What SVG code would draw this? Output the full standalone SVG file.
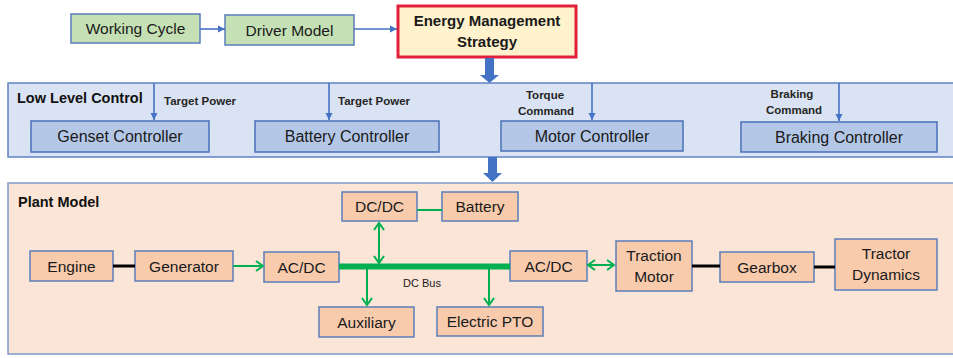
<svg xmlns="http://www.w3.org/2000/svg" width="953" height="358" viewBox="0 0 953 358">
<defs>
<style>
.t{font-family:"Liberation Sans",Arial,sans-serif;fill:#1a1a1a;text-anchor:middle}
.n{font-size:15.5px}
.c{font-size:16px}
.b{font-weight:bold}
.st{text-anchor:start}
.lbl{font-size:11.5px;font-weight:bold;fill:#262626}
.title{font-size:14.5px;font-weight:bold;text-anchor:start;fill:#111}
.green{fill:#C5E0B4;stroke:#5B7DBB;stroke-width:1.5}
.ctrl{fill:#B4C7E7;stroke:#4A6FB8;stroke-width:1.5}
.plant{fill:#F8CBAD;stroke:#5B7DBB;stroke-width:1.5}
.bl{stroke:#4472C4;stroke-width:1.6;fill:none}
.gl{stroke:#00B050;stroke-width:2;fill:none}
.blk{stroke:#000;stroke-width:3;fill:none}
</style>
<marker id="ab" markerUnits="userSpaceOnUse" markerWidth="8" markerHeight="8" refX="7" refY="4" orient="auto">
<path d="M0,0.5 L7,4 L0,7.5 z" fill="#4472C4"/>
</marker>
<marker id="ag" markerUnits="userSpaceOnUse" markerWidth="10" markerHeight="12" refX="8" refY="6" orient="auto-start-reverse">
<path d="M1,1 L8,6 L1,11" fill="none" stroke="#00B050" stroke-width="2"/>
</marker>
</defs>
<rect width="953" height="358" fill="#fff"/>

<g id="low-level-control">
<rect x="8" y="83" width="950" height="74" fill="#DAE3F3" stroke="#5F82C4" stroke-width="1.5"/>
<text class="t title" x="17" y="103">Low Level Control</text>
</g>
<g id="plant-model">
<rect x="8" y="183" width="950" height="171" fill="#FBE5D6" stroke="#7F9BCB" stroke-width="1.5"/>
<text class="t title" x="18" y="207">Plant Model</text>
</g>

<g id="working-cycle"><rect class="green" x="71" y="14" width="129" height="29"/><text class="t n" x="135.5" y="34">Working Cycle</text></g>
<g id="driver-model"><rect class="green" x="225" y="15" width="129" height="30"/><text class="t n" x="289.5" y="35.5">Driver Model</text></g>
<g id="energy-management-strategy"><rect x="398" y="6" width="178" height="51" fill="#FFF2CC" stroke="#E3203C" stroke-width="3"/><text class="t b" font-size="15" x="487" y="26">Energy Management</text><text class="t b" font-size="15" x="487" y="47">Strategy</text></g>

<g id="genset-controller"><rect class="ctrl" x="31" y="121" width="178" height="31"/><text class="t c" x="120" y="142">Genset Controller</text></g>
<g id="battery-controller"><rect class="ctrl" x="255" y="121" width="184" height="31"/><text class="t c" x="347" y="142">Battery Controller</text></g>
<g id="motor-controller"><rect class="ctrl" x="501" y="121" width="182" height="30"/><text class="t c" x="592" y="142">Motor Controller</text></g>
<g id="braking-controller"><rect class="ctrl" x="741" y="122" width="196" height="30"/><text class="t c" x="839" y="143">Braking Controller</text></g>

<g id="engine"><rect class="plant" x="30" y="251" width="83" height="30"/><text class="t n" x="71.5" y="271.5">Engine</text></g>
<g id="generator"><rect class="plant" x="135" y="251" width="98" height="30"/><text class="t n" x="184" y="271.5">Generator</text></g>
<g id="ac-dc-1"><rect class="plant" x="264" y="252" width="75" height="30"/><text class="t n" x="301.5" y="272.5">AC/DC</text></g>
<g id="dc-dc"><rect class="plant" x="342" y="192" width="75" height="29"/><text class="t n" x="379.5" y="212">DC/DC</text></g>
<g id="battery"><rect class="plant" x="442" y="192" width="76" height="29"/><text class="t n" x="480" y="212">Battery</text></g>
<g id="auxiliary"><rect class="plant" x="319" y="307" width="95" height="30"/><text class="t n" x="366.5" y="327.5">Auxiliary</text></g>
<g id="electric-pto"><rect class="plant" x="437" y="307" width="106" height="29"/><text class="t n" x="490" y="327">Electric PTO</text></g>
<g id="ac-dc-2"><rect class="plant" x="510" y="251" width="77" height="30"/><text class="t n" x="548.5" y="271.5">AC/DC</text></g>
<g id="traction-motor"><rect class="plant" x="616" y="241" width="76" height="50"/><text class="t n" x="654" y="261">Traction</text><text class="t n" x="654" y="282">Motor</text></g>
<g id="gearbox"><rect class="plant" x="720" y="252" width="94" height="30"/><text class="t n" x="767" y="272.5">Gearbox</text></g>
<g id="tractor-dynamics"><rect class="plant" x="835" y="239" width="102" height="51"/><text class="t n" x="886" y="259">Tractor</text><text class="t n" x="886" y="280">Dynamics</text></g>

<g id="connectors">
<line class="bl" x1="200" y1="29" x2="225" y2="29" marker-end="url(#ab)"/>
<line class="bl" x1="354" y1="29" x2="397" y2="29" marker-end="url(#ab)"/>
<polygon points="485,58 494,58 494,75 499,75 489.5,83 480,75 485,75" fill="#4472C4"/>
<polygon points="488,157 497,157 497,173 502,173 492.5,182 483,173 488,173" fill="#4472C4"/>
<line class="bl" x1="154" y1="83" x2="154" y2="120" marker-end="url(#ab)"/>
<line class="bl" x1="329" y1="83" x2="329" y2="120" marker-end="url(#ab)"/>
<line class="bl" x1="592" y1="83" x2="592" y2="120" marker-end="url(#ab)"/>
<line class="bl" x1="839" y1="83" x2="839" y2="121" marker-end="url(#ab)"/>
<text class="t lbl st" x="164" y="105">Target Power</text>
<text class="t lbl st" x="338" y="105">Target Power</text>
<text class="t lbl" x="545" y="99">Torque</text>
<text class="t lbl" x="546" y="115">Command</text>
<text class="t lbl" x="792" y="98">Braking</text>
<text class="t lbl" x="794" y="114">Command</text>

<line class="blk" x1="113" y1="266" x2="135" y2="266"/>
<line class="blk" x1="692" y1="266" x2="720" y2="266"/>
<line class="blk" x1="814" y1="267" x2="835" y2="267"/>

<line x1="339" y1="266.5" x2="510" y2="266.5" stroke="#00B050" stroke-width="6"/>
<line class="gl" x1="417" y1="210" x2="442" y2="210"/>
<line class="gl" x1="233" y1="266" x2="263" y2="266" marker-end="url(#ag)"/>
<line class="gl" x1="379" y1="223" x2="379" y2="263" marker-start="url(#ag)" marker-end="url(#ag)"/>
<line class="gl" x1="367" y1="267" x2="367" y2="305" marker-end="url(#ag)"/>
<line class="gl" x1="489" y1="267" x2="489" y2="305" marker-end="url(#ag)"/>
<line class="gl" x1="588" y1="265" x2="614" y2="265" marker-start="url(#ag)" marker-end="url(#ag)"/>
<text class="t" font-size="11" x="422" y="287">DC Bus</text>
</g>
</svg>
